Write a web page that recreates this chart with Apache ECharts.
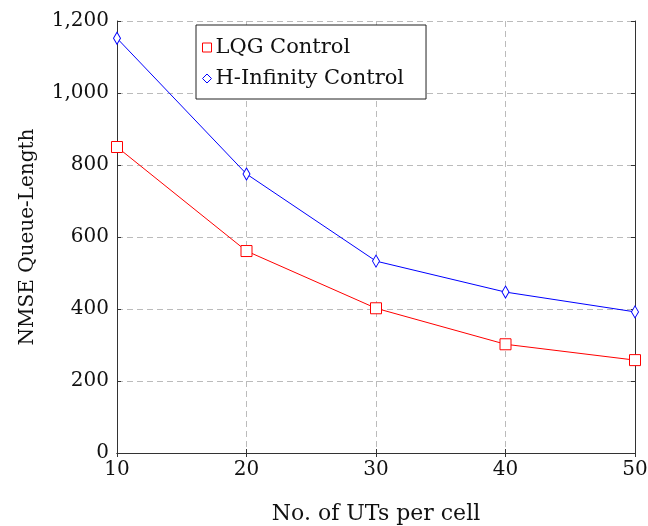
<!DOCTYPE html>
<html>
<head>
<meta charset="utf-8">
<script src="https://cdn.jsdelivr.net/npm/echarts@6/dist/echarts.min.js"></script>
<style>
  html, body { margin: 0; padding: 0; background: #fff; }
  #chart { width: 648px; height: 526px; }
</style>
</head>
<body>
<div id="chart"></div>
<script>
// 横坐标：每小区UT数
const utCounts = [10, 20, 30, 40, 50];
// 两种控制方式的NMSE
const lqgValues = [850, 561, 402, 302, 258];
const hInfValues = [1152, 775, 533, 447, 392];
const seriesNames = ['LQG Control', 'H-Infinity Control'];

const fontFam = 'DejaVu Serif';
const chart = echarts.init(document.getElementById('chart'));

const gridLine = { show: true, lineStyle: { color: '#bbb', type: [6, 4], width: 1 } };
const frameAxis = {
  axisLine: { show: true, lineStyle: { color: '#333' } },
  axisTick: { show: true, inside: true, length: 4, lineStyle: { color: '#333' } },
  axisLabel: { show: false }, splitLine: { show: false }
};

chart.setOption({
  backgroundColor: '#fff',
  animation: false,
  grid: { left: 117, right: 13, top: 21, bottom: 73, outerBoundsMode: 'none', containLabel: false },
  legend: {
    left: 196, top: 25, orient: 'vertical',
    padding: [12, 22, 10, 6],
    itemGap: 10,
    itemWidth: 9, itemHeight: 9,
    borderColor: '#222', borderWidth: 1,
    backgroundColor: '#fff',
    textStyle: { fontFamily: fontFam, fontSize: 21, color: '#111', padding: [0, 0, 0, -1] },
    data: [
      { name: seriesNames[0], icon: 'rect', itemStyle: { color: '#fff', borderColor: '#f00', borderWidth: 1 } },
      { name: seriesNames[1], icon: 'diamond', itemStyle: { color: '#fff', borderColor: '#00f', borderWidth: 1 } }
    ]
  },
  xAxis: [{
    type: 'value', min: 10, max: 50, interval: 10,
    name: 'No. of UTs per cell', nameLocation: 'middle', nameGap: 50,
    nameTextStyle: { fontFamily: fontFam, fontSize: 22, color: '#111' },
    axisLine: { show: true, lineStyle: { color: '#333' } },
    axisTick: { show: true, inside: true, length: 4, lineStyle: { color: '#333' } },
    axisLabel: { fontFamily: fontFam, fontSize: 20, color: '#111', margin: 7 },
    splitLine: gridLine
  }, Object.assign({ type: 'value', min: 10, max: 50, interval: 10, position: 'top' }, frameAxis)],
  yAxis: [{
    type: 'value', min: 0, max: 1200, interval: 200,
    name: 'NMSE Queue-Length', nameLocation: 'middle', nameGap: 79,
    nameTextStyle: { fontFamily: fontFam, fontSize: 20, color: '#111' },
    axisLine: { show: true, lineStyle: { color: '#333' } },
    axisTick: { show: true, inside: true, length: 4, lineStyle: { color: '#333' } },
    axisLabel: {
      fontFamily: fontFam, fontSize: 20, color: '#111', margin: 8,
      formatter: v => v.toLocaleString('en-US')
    },
    splitLine: gridLine
  }, Object.assign({ type: 'value', min: 0, max: 1200, interval: 200, position: 'right' }, frameAxis)],
  series: [{
    name: seriesNames[0], type: 'line',
    data: utCounts.map((x, i) => [x, lqgValues[i]]),
    symbol: 'rect', symbolSize: 11,
    itemStyle: { color: '#fff', borderColor: '#f00', borderWidth: 1 },
    lineStyle: { color: '#f00', width: 1 },
    z: 3
  }, {
    name: seriesNames[1], type: 'line',
    data: utCounts.map((x, i) => [x, hInfValues[i]]),
    symbol: 'diamond', symbolSize: [7, 12],
    itemStyle: { color: '#fff', borderColor: '#00f', borderWidth: 1 },
    lineStyle: { color: '#00f', width: 1 },
    z: 3
  }]
});
</script>
</body>
</html>
